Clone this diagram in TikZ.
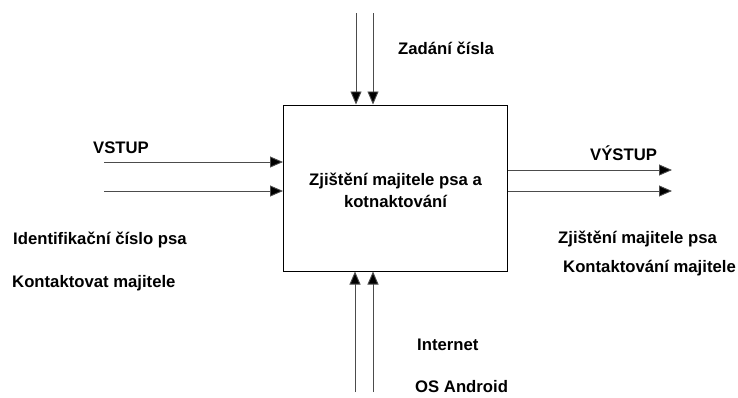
\documentclass[tikz,border=0pt]{standalone}
\usepackage{fontspec}
\setmainfont{Liberation Sans}
\usetikzlibrary{arrows.meta}
\begin{document}
\begin{tikzpicture}[x=1pt,y=-1pt,
  lbl/.style={font=\bfseries\fontsize{16.7}{20}\selectfont, inner sep=0pt, anchor=base west},
  flow/.style={draw=black!70, line width=0.9pt, -{Triangle[length=13pt,width=11pt,fill=black]}},
  box/.style={draw=black, line width=1pt, minimum width=224pt, minimum height=166pt, inner sep=0pt},
  boxtext/.style={font=\bfseries\fontsize{16.7}{20}\selectfont, inner sep=0pt, anchor=base}]
\useasboundingbox (0,0) rectangle (738,397);
\node[box] (main) at (395.5,188) {};
\node[boxtext] (t1) at (395.5,185) {Zjištění majitele psa a};
\node[boxtext] (t2) at (395.5,207) {kotnaktování};
% inputs (left)
\coordinate (i1) at (104,162);
\coordinate (i2) at (104,191);
\draw[flow] (i1) -- (i1 -| main.west);
\draw[flow] (i2) -- (i2 -| main.west);
% outputs (right)
\coordinate (o1) at (672,170);
\coordinate (o2) at (672,191);
\draw[flow] (o1 -| main.east) -- (o1);
\draw[flow] (o2 -| main.east) -- (o2);
% controls (top)
\coordinate (c1) at (356,13);
\coordinate (c2) at (373,13);
\draw[flow] (c1) -- (c1 |- main.north);
\draw[flow] (c2) -- (c2 |- main.north);
% mechanisms (bottom)
\coordinate (m1) at (355,392);
\coordinate (m2) at (373,392);
\draw[flow] (m1) -- (m1 |- main.south);
\draw[flow] (m2) -- (m2 |- main.south);
% labels
\node[lbl] (tz) at (398,54) {Zadání čísla};
\node[lbl] (tv) at (93,153) {VSTUP};
\node[lbl] (ti) at (13,244) {Identifikační číslo psa};
\node[lbl] (tk) at (12,287) {Kontaktovat majitele};
\node[lbl] (tvy) at (590,160) {VÝSTUP};
\node[lbl] (tzm) at (558,243) {Zjištění majitele psa};
\node[lbl] (tkm) at (563,272) {Kontaktování majitele};
\node[lbl] (tin) at (417,350) {Internet};
\node[lbl] (tos) at (415,392) {OS Android};
\end{tikzpicture}
\end{document}
